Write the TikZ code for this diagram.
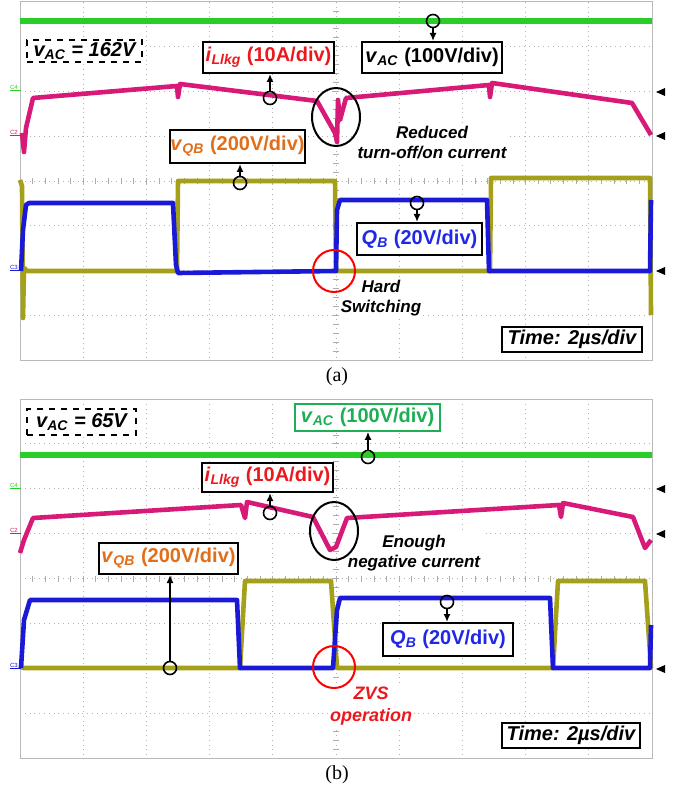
\documentclass[tikz,border=0pt]{standalone}
\usepackage{fontspec}
\setmainfont{Liberation Serif}
\setsansfont{Liberation Sans}
\usetikzlibrary{arrows.meta,shapes.geometric}

\definecolor{acgreen}{RGB}{40,205,40}
\definecolor{curpink}{RGB}{215,25,120}
\definecolor{vqbolive}{RGB}{165,160,25}
\definecolor{qbblue}{RGB}{25,25,215}
\definecolor{txtred}{RGB}{235,25,30}
\definecolor{txtorange}{RGB}{225,110,25}
\definecolor{txtblue}{RGB}{30,40,230}
\definecolor{txtgreen}{RGB}{30,175,85}
\newcommand{\signame}[2]{\textit{#1}\textsubscript{\textit{#2}}}

\begin{document}
\begin{tikzpicture}[x=0.5pt,y=-0.5pt,
    trace/.style={line width=2.3pt,line join=round},
    gridline/.style={gray!60,line width=0.4pt,dotted},
    scalebox/.style={draw,line width=1pt,fill=white,inner sep=0pt,font=\sffamily\bfseries\fontsize{10}{12}\selectfont},
    levelbox/.style={draw,dashed,line width=0.6pt,fill=white,inner sep=0pt,font=\sffamily\bfseries\itshape\fontsize{10}{12}\selectfont},
    timebox/.style={draw,line width=1.3pt,fill=white,inner sep=0pt,font=\sffamily\bfseries\itshape\fontsize{10}{12}\selectfont},
    note/.style={fill=white,inner sep=1pt,align=center,font=\sffamily\bfseries\itshape\fontsize{8.5}{10}\selectfont},
    probe/.style={circle,draw,line width=0.8pt,minimum size=6.5pt,inner sep=0pt},
    ring/.style={ellipse,draw,line width=1pt,inner sep=0pt},
    chan/.style={inner sep=0pt,font=\sffamily\fontsize{3}{3}\selectfont},
    tip/.style={-{Latex[length=4pt,width=3.5pt]},line width=0.8pt}]
  \useasboundingbox (0,0) rectangle (673,790);

  \foreach \gy/\gh in {2/44.75,399/44.875} {
    \foreach \i in {1,...,9} \draw[gridline] ({20+\i*63.2},\gy) -- ({20+\i*63.2},{\gy+8*\gh});
    \foreach \j in {1,...,7} \draw[gridline] (20,{\gy+\j*\gh}) -- (652,{\gy+\j*\gh});
    \draw[gray!55,line width=0.5pt] (20,\gy) rectangle (652,{\gy+8*\gh});
    \foreach \k in {1,...,49} \draw[gray!65,line width=0.4pt] ({20+\k*12.64},{\gy+4*\gh-3}) -- ({20+\k*12.64},{\gy+4*\gh+3});
    \foreach \k in {1,...,39} \draw[gray!65,line width=0.4pt] (333,{\gy+\k*\gh/5}) -- (339,{\gy+\k*\gh/5});
  }

  \node[note] (reduced) at (432,143) {Reduced\\turn-off/on current};
  \node[note] (hard) at (381,298) {Hard\\Switching};
  \node[note] (enough) at (414,553) {Enough\\negative current};
  \node[note,text=txtred,font=\sffamily\bfseries\itshape\fontsize{9}{11}\selectfont] (zvs) at (371,706) {ZVS\\operation};

  \draw[trace,acgreen,line width=3.2pt] (20,21) -- (652,21);
  \draw[trace,curpink] (22,133) -- (24,152) -- (26,128) -- (33,98) -- (177,86) -- (178,97) -- (180,84)
    -- (317,101) -- (335,133) -- (337,142) -- (338,100) -- (340,120) -- (346,98) -- (489,85) -- (490,97)
    -- (492,83) -- (632,103) -- (651,135);
  \draw[trace,vqbolive] (20,180) -- (22,186) -- (23,318) -- (24,268) -- (27,271) -- (177,271) -- (178,181)
    -- (335,181) -- (336,271) -- (490,271) -- (491,178) -- (650,178) -- (651,315);
  \draw[trace,qbblue] (21,271) -- (23,230) -- (26,205) -- (29,203) -- (173,203) -- (176,265) -- (178,273)
    -- (336,271) -- (337,210) -- (340,200) -- (487,200) -- (489,271) -- (650,271) -- (651,200);

  \draw[trace,acgreen,line width=3.2pt] (20,455) -- (652,455);
  \draw[trace,curpink] (20,553) -- (24,540) -- (33,518) -- (241,505) -- (245,518) -- (247,502) -- (313,517)
    -- (330,550) -- (336,547) -- (347,518) -- (559,505) -- (561,517) -- (563,503) -- (633,517) -- (645,548)
    -- (651,540);
  \draw[trace,vqbolive] (20,665) -- (23,668) -- (240,668) -- (245,581) -- (331,581) -- (337,668)
    -- (553,668) -- (558,581) -- (645,581) -- (651,668);
  \draw[trace,qbblue] (21,668) -- (24,620) -- (30,600) -- (237,600) -- (240,668) -- (333,668)
    -- (337,610) -- (340,598) -- (550,598) -- (553,668) -- (650,668) -- (651,625);

  \foreach \cy/\cn/\cc in {87/C4/acgreen,132/C2/curpink,267/C3/qbblue,485/C4/acgreen,530/C2/curpink,665/C3/qbblue} {
    \node[chan,text=\cc] (ch\cy) at (14,\cy) {\cn};
    \draw[\cc,line width=0.4pt] ([yshift=-0.6pt]ch\cy.south west) -- +(5.5pt,0);
  }
  \foreach \my in {92,136,271,489,534,669}
    \fill (656,\my) -- (665,{\my-4}) -- (665,{\my+4}) -- cycle;

  \node[levelbox,minimum width=57.5pt,minimum height=11pt] (lva) at (84.5,51) {\signame{v}{AC} = 162V};
  \node[scalebox,text=txtred,minimum width=65.5pt,minimum height=15.5pt] (bia) at (268.5,57.5) {\signame{i}{Llkg} (10A/div)};
  \node[scalebox,minimum width=70pt,minimum height=15.5pt] (bva) at (432,57.5) {\signame{v}{AC} (100V/div)};
  \node[scalebox,text=txtorange,minimum width=67.5pt,minimum height=16.5pt] (bqa) at (237.5,146.5) {\signame{v}{QB} (200V/div)};
  \node[scalebox,text=txtblue,minimum width=62.5pt,minimum height=16pt] (bga) at (419.5,239) {\signame{Q}{B} (20V/div)};
  \node[timebox,minimum width=70pt,minimum height=12.5pt] (ta) at (572,339.5) {Time: 2µs/div};

  \node[probe] (pia) at (270,98) {};
  \node[probe] (pva) at (433,21) {};
  \node[probe] (pqa) at (240,183) {};
  \node[probe] (pga) at (417,203) {};
  \draw[tip] (pia) -- (pia |- bia.south);
  \draw[tip] (pva) -- (pva |- bva.north);
  \draw[tip] (pqa) -- (pqa |- bqa.south);
  \draw[tip] (pga) -- (pga |- bga.north);
  \node[ring,minimum width=24pt,minimum height=29pt] (dipa) at (336,117) {};
  \node[ring,draw=red,circle,minimum size=21pt] (swa) at (334,271) {};

  \node[levelbox,minimum width=54.5pt,minimum height=13pt] (lvb) at (81.5,422) {\signame{v}{AC} = 65V};
  \node[scalebox,line width=0.8pt,draw=txtgreen,text=txtgreen,minimum width=72.5pt,minimum height=13.5pt] (bvb) at (367.5,417.5) {\signame{v}{AC} (100V/div)};
  \node[scalebox,text=txtred,minimum width=65.5pt,minimum height=14.5pt] (bib) at (267.5,477.5) {\signame{i}{Llkg} (10A/div)};
  \node[scalebox,text=txtorange,minimum width=69.5pt,minimum height=15.5pt] (bqb) at (168.5,558.5) {\signame{v}{QB} (200V/div)};
  \node[scalebox,text=txtblue,minimum width=65pt,minimum height=16.5pt] (bgb) at (448,639.5) {\signame{Q}{B} (20V/div)};
  \node[timebox,minimum width=69pt,minimum height=12.5pt] (tb) at (571,735.5) {Time: 2µs/div};

  \node[probe] (pvb) at (368,457) {};
  \node[probe] (pib) at (270,513) {};
  \node[probe] (pqb) at (170,668) {};
  \node[probe] (pgb) at (447,602) {};
  \draw[tip] (pvb) -- (pvb |- bvb.south);
  \draw[tip] (pib) -- (pib |- bib.south);
  \draw[tip] (pqb) -- (pqb |- bqb.south);
  \draw[tip] (pgb) -- (pgb |- bgb.north);
  \node[ring,minimum width=24pt,minimum height=29pt] (dipb) at (334,531) {};
  \node[ring,draw=red,circle,minimum size=21pt] (swb) at (334,667) {};

  \node[font=\fontsize{10}{12}\selectfont] (capa) at (337,377) {(a)};
  \node[font=\fontsize{10}{12}\selectfont] (capb) at (337,775) {(b)};
\end{tikzpicture}
\end{document}
